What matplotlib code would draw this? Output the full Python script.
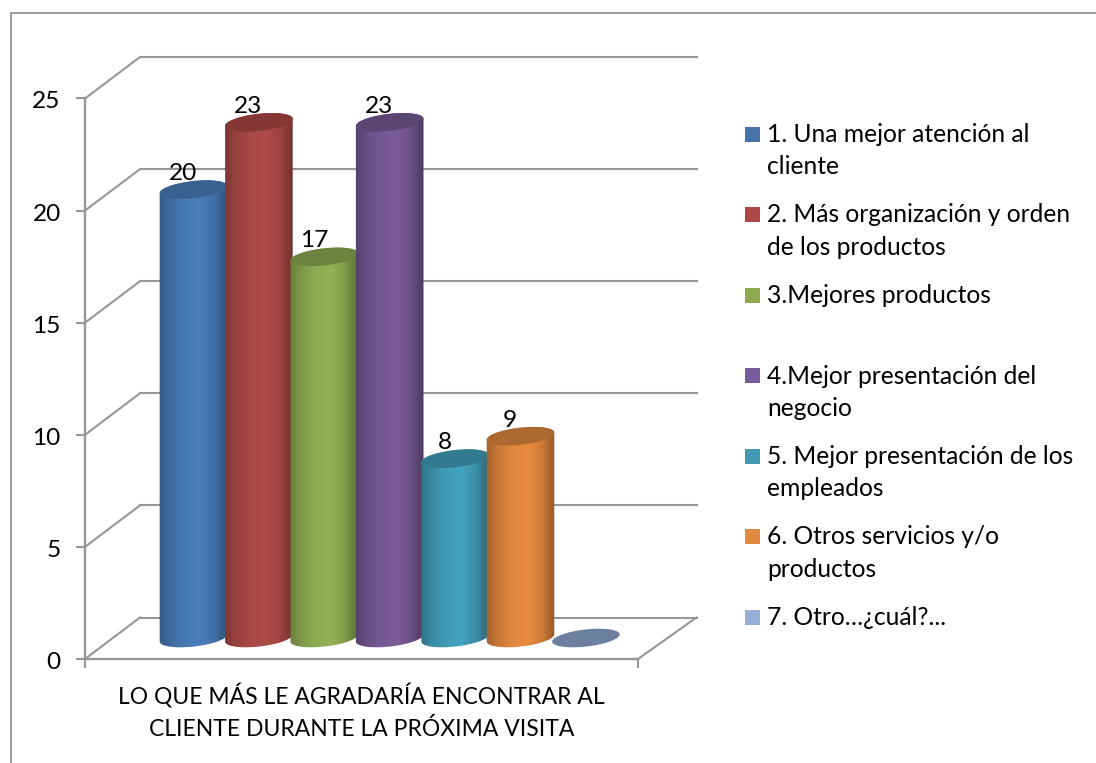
import numpy as np
import matplotlib
matplotlib.use("Agg")
import matplotlib.pyplot as plt
from matplotlib.patches import Polygon, Rectangle
from matplotlib.lines import Line2D
from matplotlib.transforms import Affine2D

# Survey responses
values = [20, 23, 17, 23, 8, 9, 0]
legend_labels = [
    "1. Una mejor atención al\ncliente",
    "2. Más organización y orden\nde los productos",
    "3.Mejores productos",
    "4.Mejor presentación del\nnegocio",
    "5. Mejor presentación de los\nempleados",
    "6. Otros servicios y/o\nproductos",
    "7. Otro…¿cuál?...",
]
y_ticks = [0, 5, 10, 15, 20, 25]
axis_title = "LO QUE MÁS LE AGRADARÍA ENCONTRAR AL\nCLIENTE DURANTE LA PRÓXIMA VISITA"

# Bar styling: face colour, top-cap colour, legend swatch colour
face_colors = ["#4A7EBB", "#B04C49", "#93B155", "#7A5C99", "#43A2BD", "#E98C42", "#7D93BC"]
cap_colors = ["#38618F", "#843735", "#6C843F", "#5C4573", "#327A8E", "#AB682F", "#6D7F9F"]
swatch_colors = ["#4674AA", "#AC4845", "#8EAA4F", "#775A99", "#419AB2", "#E08A40", "#95AFD6"]

W, H = 1096, 763
GRAY = "#969696"
FS = 17.6
plt.rcParams["font.family"] = ["Lato", "DejaVu Sans"]

fig = plt.figure(figsize=(W / 100, H / 100), dpi=100, facecolor="white")

# Front plane of the 3-D box
LEFT, RIGHT, BOTTOM, TOP = 85, 638, 659, 98.5
ax = fig.add_axes([LEFT / W, (H - BOTTOM) / H, (RIGHT - LEFT) / W, (BOTTOM - TOP) / H])
ax.patch.set_alpha(0)

SLOT_PX = 65.4
X_MIN = -(193.5 - 27.5 - LEFT) / SLOT_PX
X_MAX = X_MIN + (RIGHT - LEFT) / SLOT_PX
PX_Y = (BOTTOM - TOP) / 25.0

# Depth offsets in pixels: back wall and the plane holding the cylinders
to_back = ax.transData + Affine2D().translate(55, 41.5)
to_mid = ax.transData + Affine2D().translate(27.5, 21)

# Back wall, side wall and floor lines
LW = 1.5
back_xmax = X_MAX + 3.5 / SLOT_PX
for v in y_ticks:
    ax.add_line(Line2D([X_MIN, back_xmax], [v, v], transform=to_back, color=GRAY,
                       lw=LW, clip_on=False, zorder=1))
    ax.plot([X_MIN, X_MIN + 55 / SLOT_PX], [v, v + 41.5 / PX_Y], color=GRAY, lw=LW,
            clip_on=False, zorder=1)
ax.plot([X_MAX, X_MAX + 58.5 / SLOT_PX], [0, 41.5 / PX_Y], color=GRAY, lw=LW,
        clip_on=False, zorder=1)

# Cylinder geometry, expressed in pixels and converted to data units
A, B, THETA = 34.0, 8.5, np.radians(6.5)


def ellipse_arc(cx, cy, t):
    ex = A * np.cos(t) * np.cos(THETA) - B * np.sin(t) * np.sin(THETA)
    ey = A * np.cos(t) * np.sin(THETA) + B * np.sin(t) * np.cos(THETA)
    return np.column_stack([cx + ex / SLOT_PX, cy + ey / PX_Y])


T_RIGHT = np.arctan(-(B / A) * np.tan(THETA))
SHADE_POS = [0.0, 0.15, 0.35, 0.6, 0.8, 1.0]
SHADE_VAL = [0.70, 0.84, 0.96, 1.0, 0.88, 0.62]
shade = np.interp(np.linspace(0, 1, 128), SHADE_POS, SHADE_VAL)

half_w = (A + 1) / SLOT_PX
for i, v in enumerate(values):
    rgb = np.array(matplotlib.colors.to_rgb(face_colors[i]))
    if v > 0:
        lower = ellipse_arc(i, 0, np.linspace(T_RIGHT - np.pi, T_RIGHT, 60))
        upper = ellipse_arc(i, v, np.linspace(T_RIGHT, T_RIGHT + np.pi, 60))
        body = Polygon(np.vstack([lower, upper]), closed=True, transform=to_mid)
        im = ax.imshow(shade[None, :, None] * rgb[None, None, :], aspect="auto",
                       extent=[i - half_w, i + half_w, -1, v + 1],
                       interpolation="bilinear", transform=to_mid,
                       zorder=3 + i * 0.1)
        im.set_clip_path(body)
    ax.add_patch(Polygon(ellipse_arc(i, v, np.linspace(0, 2 * np.pi, 120)), closed=True,
                         transform=to_mid, facecolor=cap_colors[i], edgecolor="none",
                         zorder=3.05 + i * 0.1))
    if v > 0:
        ax.annotate(str(v), (i, v), xycoords=to_mid, xytext=(-10.5 * 0.72, 16 * 0.72),
                    textcoords="offset points", ha="center", va="center",
                    fontsize=FS, color="black", zorder=4)

# Axes frame
ax.set_xlim(X_MIN, X_MAX)
ax.set_ylim(0, 25)
for side in ("top", "right"):
    ax.spines[side].set_visible(False)
for side in ("left", "bottom"):
    ax.spines[side].set_color(GRAY)
    ax.spines[side].set_linewidth(1.7)
ax.set_yticks(y_ticks)
ax.set_xticks([X_MIN, X_MAX])
ax.set_xticklabels([])
ax.tick_params(axis="both", length=6.5, width=1.5, color=GRAY)
ax.tick_params(axis="y", labelsize=FS, pad=11)
for tick_label in ax.get_yticklabels():
    tick_label.set_transform(tick_label.get_transform() + Affine2D().translate(0, -1.5))
ax.set_xlabel(axis_title, fontsize=16.45, labelpad=8, linespacing=1.5)

# Outer chart border
page = Affine2D().scale(1, -1).translate(0, H)
fig.add_artist(Line2D([10.5, 10.5, W], [H, 13, 13], transform=page, color="#8C8C8C", lw=1.2))

# Legend: evenly spaced entries, wrapped labels hanging below the first line
ENTRY_Y = 134
ENTRY_STEP = 80.5
LINE_STEP = 32.5
for i, label in enumerate(legend_labels):
    y = ENTRY_Y + i * ENTRY_STEP
    fig.add_artist(Rectangle((745, y - 7.5), 15, 15, transform=page,
                             facecolor=swatch_colors[i], edgecolor="none"))
    for k, line in enumerate(label.split("\n")):
        fig.text(767 / W, (H - y - 8 - k * LINE_STEP) / H, line, fontsize=17.75,
                 ha="left", va="baseline", color="black")

fig.savefig("out.png", dpi=100)
